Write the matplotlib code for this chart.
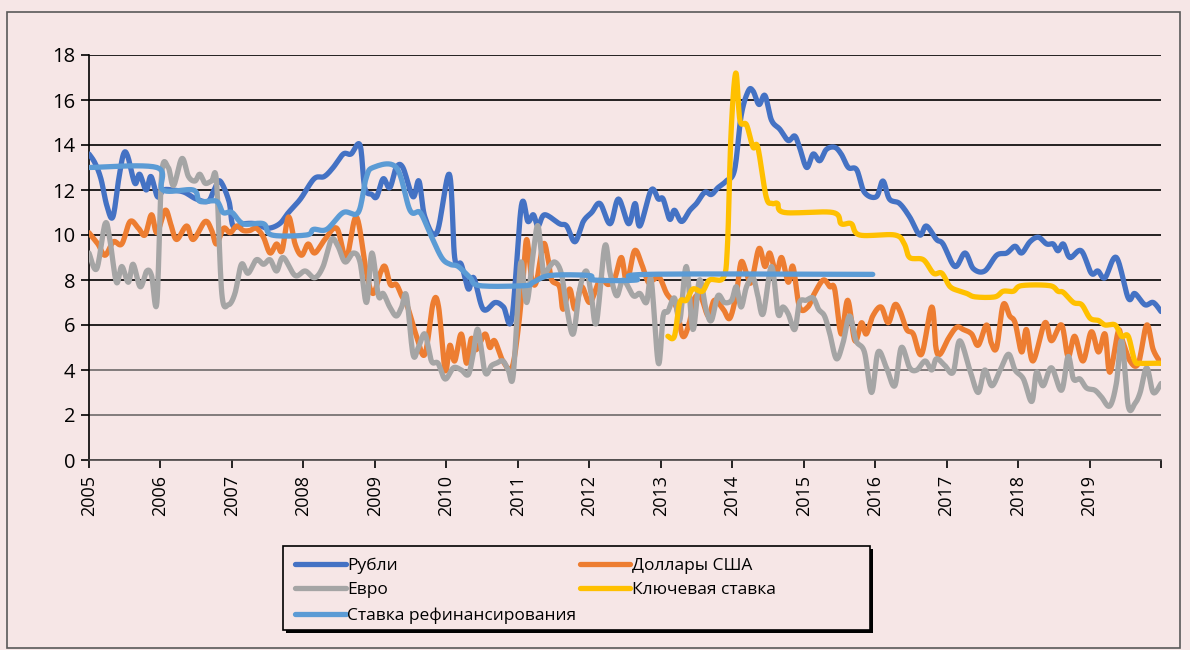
import numpy as np
import matplotlib
matplotlib.use('Agg')
import matplotlib.pyplot as plt
from matplotlib.patches import Rectangle
from matplotlib.lines import Line2D

plt.rcParams['font.family'] = ['Open Sans', 'DejaVu Sans']

# months since Jan 2005 and values
rub_month = [0, 1, 2, 3, 4, 5, 5.8, 6.5, 7.7, 8.5, 9.6, 10.4, 11.5, 12.5, 14, 16, 18, 20, 21, 22, 23.5, 24.2,
             26, 28, 30, 32, 33.5, 35.5, 37.8, 39.5, 41, 42.7, 44, 45.5, 46.3, 47.5, 48.3, 49.4, 50.5, 51.6,
             52.7, 54.4, 55.4, 56.4, 58.4, 60.5, 61.4, 62.5, 63.7, 64.6, 66.2, 68.2, 69.6, 71, 72.6, 73.7,
             74.6, 75.4, 76.5, 79, 80.2, 81.6, 83, 84.4, 85.8, 87.5, 88.9, 90.6, 91.7, 92.5, 94.4, 95.6, 96.4,
             97.5, 98.3, 99.5, 100.9, 102, 103.4, 104.5, 105.6, 107, 108.4, 109.5, 110.7, 111.5, 112.5, 113.5,
             114.6, 116, 117.4, 118.5, 119.3, 120.5, 121.6, 122.7, 123.8, 125.2, 126.3, 127.5, 128.9, 130.2,
             132.2, 133.3, 134.4, 136.1, 137.8, 139.5, 140.6, 142.3, 143.4, 145.4, 147.1, 148.5, 150.4, 152.4,
             154.1, 155.5, 156.6, 158, 159.4, 160.8, 161.9, 162.7, 163.6, 164.7, 166.6, 168.3, 169.4, 170.6,
             172.5, 174.5, 175.6, 177.3, 178.7, 180]
rub_val = [13.6, 13.2, 12.5, 11.3, 10.8, 12.5, 13.6, 13.5, 12.3, 12.7, 12.0, 12.6, 11.7, 12.0, 12.0, 11.9, 11.6, 11.5,
           12.0, 12.4, 11.5, 10.4, 10.5, 10.5, 10.3, 10.5, 11.0, 11.6, 12.5, 12.6, 13.0, 13.6, 13.6, 14.0, 12.1,
           11.8, 11.7, 12.5, 12.1, 13.0, 13.0, 11.7, 12.4, 10.8, 10.1, 12.7, 9.0, 8.7, 7.6, 8.1, 6.7, 7.0, 6.8,
           6.3, 11.3, 10.6, 10.9, 10.4, 10.9, 10.5, 10.4, 9.7, 10.6, 11.0, 11.4, 10.5, 11.6, 10.5, 11.4, 10.4,
           12.0, 11.6, 11.6, 10.7, 11.1, 10.6, 11.1, 11.4, 11.9, 11.8, 12.1, 12.4, 12.9, 15.3, 16.4, 16.4, 15.8,
           16.2, 15.1, 14.7, 14.2, 14.4, 13.9, 13.0, 13.6, 13.3, 13.8, 13.9, 13.6, 13.0, 12.9, 11.9, 11.7, 12.4,
           11.6, 11.4, 10.8, 10.0, 10.4, 9.8, 9.6, 8.6, 9.2, 8.5, 8.4, 9.1, 9.2, 9.5, 9.2, 9.7, 9.9, 9.6, 9.6,
           9.3, 9.6, 9.0, 9.3, 8.3, 8.4, 8.1, 9.0, 7.2, 7.4, 6.9, 7.0, 6.6]

usd_month = [0, 1.5, 2.7, 4.1, 5.5, 6.9, 8.3, 9.4, 10.5, 11.4, 12.8, 13.7, 14.7, 16.4, 17.5, 19.5, 20.6, 21.4, 22.6,
             23.7, 24.8, 25.9, 27, 28.1, 29.3, 30.4, 31.5, 32.4, 33.5, 34.6, 35.7, 36.8, 37.9, 39.6, 41.6, 43.2,
             44.9, 46.6, 47.7, 48.9, 49.7, 50.6, 51.6, 52.5, 53.5, 55, 56.4, 57.8, 58.7, 59.8, 60.6, 61.4, 62.5,
             63.4, 64.2, 65, 66.5, 67.3, 68.1, 69.5, 71, 72.1, 72.9, 73.5, 74.3, 75.1, 76.3, 77.1, 77.7, 79,
             79.6, 80.7, 81.6, 82.7, 84.1, 85.8, 87.2, 88.3, 89.4, 90.3, 91.6, 92.8, 93.9, 94.7, 95.8, 97, 98.6,
             99.7, 100.8, 101.7, 102.8, 104, 105, 106.5, 107.6, 108.7, 109.5, 110.4, 111.2, 112.5, 113.5, 114.3,
             115.4, 116.3, 117.4, 118.2, 119.3, 120.7, 121.8, 123.3, 124.4, 125.2, 126.3, 127.4, 128.6, 129.7,
             130.5, 131.6, 133, 134.2, 135.3, 136.2, 137.3, 138.4, 139.8, 141.5, 142.2, 142.9, 144.3, 145.7,
             146.8, 148.2, 149.3, 150.7, 151.5, 152.4, 153.5, 154.6, 155.5, 156.6, 157.4, 158.5, 160.5, 161.6,
             163.3, 164.4, 165.5, 166.9, 168.3, 169.5, 170.6, 171.4, 172.8, 173.4, 174.8, 176.2, 177.6, 178.7, 180]
usd_val = [10.1, 9.6, 9.1, 9.7, 9.6, 10.6, 10.3, 10.0, 10.9, 10.1, 11.1, 10.5, 9.8, 10.4, 9.8, 10.6, 10.2, 9.6, 10.3,
           10.1, 10.4, 10.2, 10.2, 10.3, 9.9, 9.2, 9.6, 9.3, 10.8, 9.6, 9.1, 9.6, 9.2, 9.8, 10.3, 9.0, 10.8, 8.3,
           7.4, 8.3, 8.6, 7.8, 7.8, 7.3, 6.8, 5.5, 4.7, 7.0, 6.8, 4.0, 5.1, 4.4, 5.6, 4.3, 5.4, 4.9, 5.6, 5.0, 5.3,
           4.4, 4.1, 5.9, 8.1, 9.8, 8.1, 7.9, 9.6, 8.9, 8.0, 7.7, 6.7, 7.6, 6.7, 7.7, 7.0, 8.0, 7.8, 8.1, 9.0,
           7.9, 9.3, 8.7, 7.9, 8.0, 8.1, 7.4, 6.8, 5.5, 6.1, 7.2, 7.2, 6.4, 7.1, 6.7, 6.3, 7.4, 8.8, 8.3, 7.9,
           9.4, 8.6, 9.2, 8.3, 9.0, 7.9, 8.6, 6.8, 6.8, 7.4, 8.0, 7.7, 7.6, 5.6, 7.1, 5.3, 6.1, 5.6, 6.4, 6.8,
           6.1, 6.9, 6.6, 5.8, 5.6, 4.7, 6.8, 5.0, 4.7, 5.4, 5.9, 5.8, 5.6, 5.1, 6.0, 5.2, 5.0, 6.9, 6.4, 6.1,
           4.8, 5.8, 4.4, 6.1, 5.3, 6.0, 4.6, 5.5, 4.4, 5.7, 4.8, 5.6, 3.9, 5.7, 5.4, 4.4, 4.3, 6.0, 4.9, 4.3]

eur_month = [0, 1.3, 2.7, 3.5, 4.6, 5.5, 6.6, 7.4, 8.6, 9.7, 10.5, 11.4, 12.2, 13.3, 14.2, 15.6, 16.7, 17.8, 18.6,
             19.5, 20.6, 21.4, 22.3, 23.4, 24.5, 25.6, 26.7, 28.1, 29.3, 30.4, 31.5, 32.6, 34.6, 36.3, 37.9, 39.3,
             40.7, 41.8, 43, 44.4, 45.5, 46.6, 47.5, 48.6, 49.4, 50.5, 51.6, 52.5, 53.3, 54.4, 55.3, 56.4, 57.5,
             58.6, 59.8, 61.2, 62.5, 63.7, 64.5, 65.3, 66.5, 67.6, 68.4, 69.5, 70.4, 71.2, 72.1, 72.6, 73.5, 74.6,
             75.4, 76.3, 77.1, 78.2, 79.3, 80.2, 81.3, 82.4, 83.5, 84.3, 85.2, 86.6, 87.5, 88.6, 89.7, 91.4, 92.5,
             93.6, 94.4, 95.6, 96.4, 97.2, 98.3, 99.2, 100.3, 101.4, 102.5, 103.6, 104.5, 105.6, 106.7, 107.9,
             108.7, 109.5, 110.4, 111.5, 112.3, 113.2, 114.6, 115.7, 116.5, 117.4, 118.5, 119.3, 120.4, 121.6,
             122.5, 123.5, 124.4, 125.5, 126.6, 127.7, 128.8, 130.2, 131.4, 132.5, 133.9, 135.3, 136.4, 137.8,
             139, 140.4, 141.5, 142.3, 143.7, 145.1, 146.2, 147.9, 149.3, 150.4, 151.6, 153, 154.4, 155.5, 156.9,
             158.3, 159.1, 160.2, 161.6, 163.3, 164.4, 165.3, 166.4, 167.5, 168.9, 170, 171.4, 172.5, 173.4,
             174.5, 175.6, 176.5, 177.6, 178.7, 180]
eur_val = [9.2, 8.5, 10.5, 9.8, 7.9, 8.6, 7.9, 8.7, 7.7, 8.4, 8.2, 7.0, 12.7, 13.0, 12.2, 13.4, 12.6, 12.4, 12.7,
           12.3, 12.4, 12.4, 7.4, 6.9, 7.4, 8.7, 8.3, 8.9, 8.7, 8.9, 8.4, 9.0, 8.2, 8.4, 8.1, 8.6, 9.8, 9.5, 8.8,
           9.2, 8.8, 7.0, 9.2, 7.3, 7.4, 6.8, 6.4, 6.8, 7.3, 4.7, 5.0, 5.6, 4.4, 4.3, 3.6, 4.1, 4.0, 3.8, 4.7,
           5.8, 3.9, 4.2, 4.3, 4.4, 4.0, 3.7, 7.4, 8.8, 7.0, 9.2, 10.4, 8.3, 8.5, 8.8, 8.3, 6.8, 5.6, 7.6, 8.4,
           7.4, 6.1, 9.5, 8.3, 7.3, 8.0, 7.3, 7.4, 7.0, 8.0, 4.3, 6.4, 6.6, 7.2, 6.2, 8.6, 5.8, 8.0, 6.7, 6.2,
           7.3, 7.0, 7.1, 7.7, 6.8, 7.7, 8.1, 7.3, 6.5, 8.6, 6.5, 6.8, 6.5, 5.8, 7.0, 7.1, 7.2, 6.7, 6.4, 5.6,
           4.5, 5.2, 6.4, 5.3, 4.8, 3.0, 4.8, 4.1, 3.3, 5.0, 4.1, 4.0, 4.4, 4.0, 4.5, 4.2, 3.9, 5.3, 4.0, 3.0,
           4.0, 3.3, 4.0, 4.7, 4.0, 3.6, 2.6, 3.9, 3.3, 4.1, 3.1, 4.6, 3.6, 3.6, 3.2, 3.1, 2.8, 2.4, 3.4, 5.3,
           2.4, 2.5, 3.0, 4.1, 3.0, 3.4]

key_month = [97.2, 98.3, 99.2, 100.3, 101.4, 103, 104.2, 106.5, 107.2, 107.8, 108.6, 109.3, 110.4, 111.5, 112.3,
             113.7, 114.7, 115.6, 116.8, 124.9, 126.3, 128, 129.4, 135.3, 136.9, 137.8, 140.1, 141.8, 143.2,
             144.6, 146.3, 147.4, 148.8, 152.1, 153.5, 155.2, 156.6, 161.3, 162.7, 163.6, 165.3, 166.7, 168.1,
             169.5, 170.6, 172.3, 173.4, 174.5, 175.6, 176.5, 178.2, 180]
key_val = [5.5, 5.5, 7.0, 7.1, 7.6, 7.5, 8.0, 8.1, 9.5, 14.5, 17.2, 15.1, 14.9, 13.9, 13.9, 11.7, 11.4, 11.4, 11.0,
           11.0, 10.5, 10.5, 10.0, 10.0, 9.6, 9.0, 8.9, 8.3, 8.3, 7.7, 7.5, 7.4, 7.25, 7.25, 7.5, 7.5, 7.75, 7.75,
           7.5, 7.45, 7.0, 6.9, 6.3, 6.2, 6.0, 6.0, 5.5, 5.5, 4.4, 4.3, 4.3, 4.3]

ref_month = [0, 11.4, 12.4, 17.5, 18.6, 21.4, 22.5, 24, 25.9, 29.3, 30.7, 36.5, 37.7, 39.9, 42.7, 45.2, 46.5, 47.7,
             51.6, 53.9, 55.6, 57.2, 59.2, 60.6, 62, 64, 65.6, 73.2, 74.6, 77.4, 84, 84.7, 91.9, 93.6, 131.6]
ref_val = [13, 13, 12, 12, 11.5, 11.5, 11, 11, 10.5, 10.5, 10, 10, 10.25, 10.25, 11, 11, 12.5, 13, 13, 11.1, 11.0,
           10.1, 9.0, 8.7, 8.6, 8.1, 7.75, 7.75, 7.9, 8.2, 8.2, 8.0, 8.0, 8.25, 8.25]

years = list(range(2005, 2021))
year_labels = [str(y) for y in range(2005, 2020)] + ['']

names = ['Рубли', 'Доллары США', 'Евро', 'Ключевая ставка', 'Ставка рефинансирования']
colors = ['#4472C4', '#ED7D31', '#A5A5A5', '#FFC000', '#5B9BD5']
BG = '#F6E6E6'


def smooth(m, v, n=12):
    """ Excel-like smoothed line (Catmull-Rom as cubic bezier) """
    x = 2005 + np.asarray(m, float) / 12.0
    y = np.asarray(v, float)
    px = np.concatenate([[x[0]], x, [x[-1]]])
    py = np.concatenate([[y[0]], y, [y[-1]]])
    t = np.linspace(0, 1, n, endpoint=False)[:, None]
    xs, ys = [], []
    for i in range(len(x) - 1):
        p0 = np.array([px[i], py[i]])
        p1 = np.array([px[i + 1], py[i + 1]])
        p2 = np.array([px[i + 2], py[i + 2]])
        p3 = np.array([px[i + 3], py[i + 3]])
        c1 = p1 + (p2 - p0) / 6
        c2 = p2 - (p3 - p1) / 6
        pts = ((1 - t) ** 3) * p1 + 3 * ((1 - t) ** 2) * t * c1 + 3 * (1 - t) * t ** 2 * c2 + t ** 3 * p2
        xs.append(pts[:, 0])
        ys.append(pts[:, 1])
    xs.append([x[-1]])
    ys.append([y[-1]])
    return np.concatenate(xs), np.concatenate(ys)


fig = plt.figure(figsize=(11.9, 6.5), dpi=100, facecolor=BG)
ax = fig.add_axes([89 / 1190, 1 - 460 / 650, (1161 - 89) / 1190, (460 - 55) / 650])
ax.set_facecolor(BG)

series = [(rub_month, rub_val), (usd_month, usd_val), (eur_month, eur_val),
          (key_month, key_val), (ref_month, ref_val)]
for (m, v), c in zip(series, colors):
    xs, ys = smooth(m, v)
    ax.plot(xs, ys, color=c, lw=3.8, solid_capstyle='round', zorder=3)

ax.set_xlim(2005, 2020)
ax.set_ylim(0, 18)
ax.set_yticks(range(0, 19, 2))
ax.set_xticks(years)
ax.set_xticklabels(year_labels, rotation=90, fontsize=13)
ax.tick_params(axis='y', labelsize=14.5, length=6, width=1.2, pad=4)
ax.tick_params(axis='x', length=6, width=1.2, pad=5)
ax.yaxis.grid(True, color='black', lw=1.2, zorder=1)
for gl, val in zip(ax.get_ygridlines(), range(0, 19, 2)):
    if val <= 4:
        gl.set_color('#6E6A6A')
ax.set_axisbelow(True)
for s in ['top', 'right']:
    ax.spines[s].set_visible(False)
ax.spines['left'].set_linewidth(1.2)
ax.spines['bottom'].set_linewidth(1.2)
ax.spines['bottom'].set_color('#4A4646')

# outer frame
fig.patches.append(Rectangle((7 / 1190, 2 / 650), 1173 / 1190, 636 / 650, transform=fig.transFigure,
                             fill=False, ec='#595959', lw=1.2))

# legend box with shadow
fig.patches.append(Rectangle((286 / 1190, 1 - 633 / 650), 587 / 1190, 84 / 650, transform=fig.transFigure,
                             fc='black', ec='none', zorder=0))
fig.patches.append(Rectangle((283 / 1190, 1 - 630 / 650), 587 / 1190, 84 / 650, transform=fig.transFigure,
                             fc=BG, ec='black', lw=1.2, zorder=1))

handles = [Line2D([], [], color=c, lw=3.8, solid_capstyle='round') for c in colors]
order = [0, 2, 4, 1, 3]
fig.legend([handles[i] for i in order], [names[i] for i in order], ncol=2, frameon=False,
           loc='upper left', bbox_to_anchor=(284 / 1190, 1 - 546 / 650), fontsize=12.5,
           handlelength=2.9, handletextpad=0.1, labelspacing=0.5, columnspacing=0.2,
           borderpad=0.15)

fig.savefig('out.png', dpi=100, facecolor=BG)
